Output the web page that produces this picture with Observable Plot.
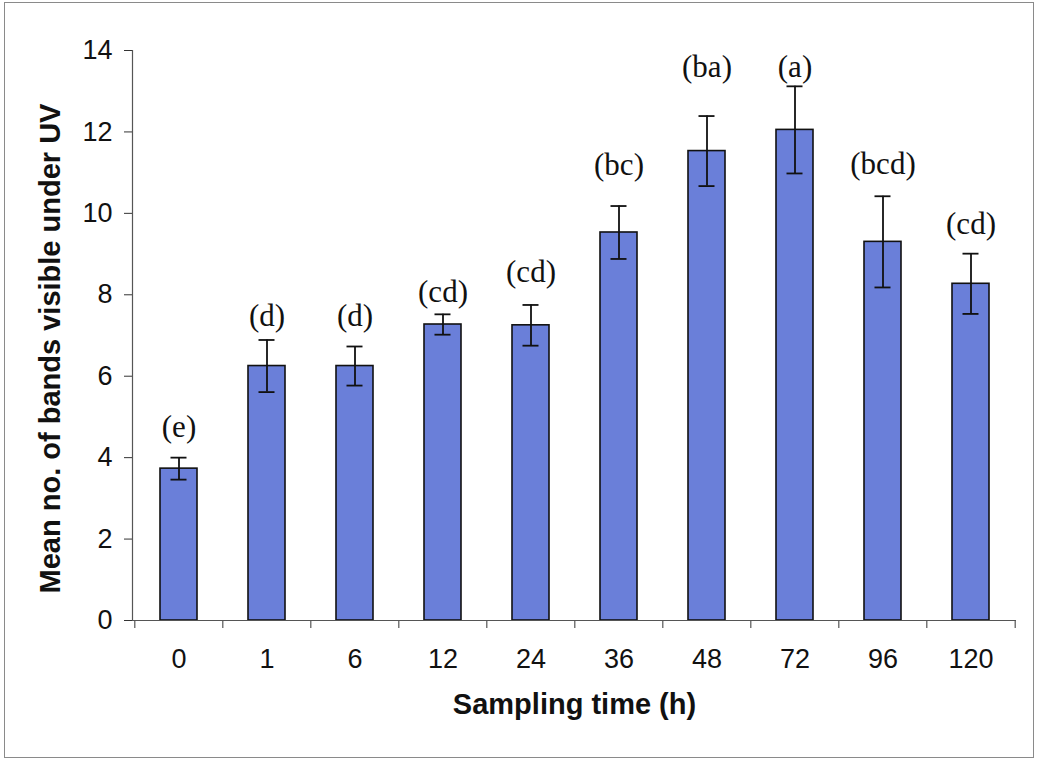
<!DOCTYPE html>
<html>
<head>
<meta charset="utf-8">
<script src="https://cdn.jsdelivr.net/npm/d3@7"></script>
<script src="https://cdn.jsdelivr.net/npm/@observablehq/plot@0.6"></script>
<style>
  html, body { margin: 0; padding: 0; background: #fff; }
  #wrap { position: relative; width: 1042px; height: 760px; }
  #border { position: absolute; left: 4px; top: 2px; width: 1028px; height: 754px;
            border: 1.5px solid #8a8a8a; pointer-events: none; }
  svg { display: block; }
  svg g[aria-label*="tick label"], svg g[aria-label*="tick label"] text { font-size: 27px !important; }
</style>
</head>
<body>
<div id="wrap"><div id="border"></div></div>
<script>
const categories = ["0", "1", "6", "12", "24", "36", "48", "72", "96", "120"];
const means      = [3.73, 6.25, 6.25, 7.27, 7.25, 9.53, 11.53, 12.05, 9.3, 8.27];
const errors     = [0.27, 0.64, 0.48, 0.25, 0.5, 0.65, 0.86, 1.07, 1.12, 0.74];
const letters    = ["(e)", "(d)", "(d)", "(cd)", "(cd)", "(bc)", "(ba)", "(a)", "(bcd)", "(cd)"];
const letterY    = [4.75, 7.47, 7.47, 8.07, 8.55, 11.18, 13.6, 13.6, 11.2, 9.74];
const yTicks     = [0, 2, 4, 6, 8, 10, 12, 14];

const data = categories.map((c, i) => ({
  t: c, m: means[i], lo: means[i] - errors[i], hi: means[i] + errors[i],
  letter: letters[i], ly: letterY[i]
}));

const W = 1042, H = 760, ML = 132, MR = 26, MT = 50, MB = 140;
const step = (W - ML - MR) / categories.length;
const sans = "Arial, 'Liberation Sans', sans-serif";
const serif = "'Times New Roman', 'Liberation Serif', serif";

const chart = Plot.plot({
  width: W, height: H,
  marginLeft: ML, marginRight: MR, marginTop: MT, marginBottom: MB,
  style: { fontFamily: sans, fontSize: "27px", background: "transparent", color: "#111" },
  x: { domain: categories, paddingInner: 0.58, paddingOuter: 0.29, label: null },
  y: { domain: [0, 14], label: null },
  marks: [
    Plot.barY(data, { x: "t", y: "m", fill: "#6a7fd9", stroke: "#111", strokeWidth: 1.6 }),
    // error bars
    Plot.ruleX(data, { x: "t", y1: "lo", y2: "hi", stroke: "#111", strokeWidth: 1.8 }),
    Plot.tickY(data, { x: "t", y: "lo", stroke: "#111", strokeWidth: 1.8, inset: 10.5 }),
    Plot.tickY(data, { x: "t", y: "hi", stroke: "#111", strokeWidth: 1.8, inset: 10.5 }),
    // significance letters
    Plot.text(data, { x: "t", y: "ly", text: "letter", fontFamily: serif, fontSize: 31, fill: "#111" }),
    // axes
    Plot.axisY({ ticks: yTicks, tickSize: 8, tickPadding: 12, fontSize: 27, label: null, stroke: "#333" }),
    Plot.axisX({ tickSize: 0, tickPadding: 28, fontSize: 27, label: null }),
    Plot.frame({ anchor: "left", stroke: "#555", strokeWidth: 1.2 }),
    Plot.ruleY([0], { stroke: "#555", strokeWidth: 1.2 }),
    // x tick marks at category boundaries
    Plot.ruleX(data, { x: "t", y1: 0, y2: 0, dx: -step / 2, insetBottom: -8, stroke: "#555", strokeWidth: 1.2 }),
    Plot.ruleX([data[data.length - 1]], { x: "t", y1: 0, y2: 0, dx: step / 2, insetBottom: -8, stroke: "#555", strokeWidth: 1.2 }),
    // axis titles
    Plot.text(["Mean no. of bands visible under UV"], { frameAnchor: "left", text: d => d, rotate: -90, dx: -82, dy: 13,
      textAnchor: "middle", fontSize: 29, fontWeight: "bold", fill: "#111" }),
    Plot.text(["Sampling time (h)"], { frameAnchor: "bottom", text: d => d, dy: 93,
      fontSize: 29, fontWeight: "bold", fill: "#111" })
  ]
});
document.getElementById("wrap").prepend(chart);
</script>
</body>
</html>
